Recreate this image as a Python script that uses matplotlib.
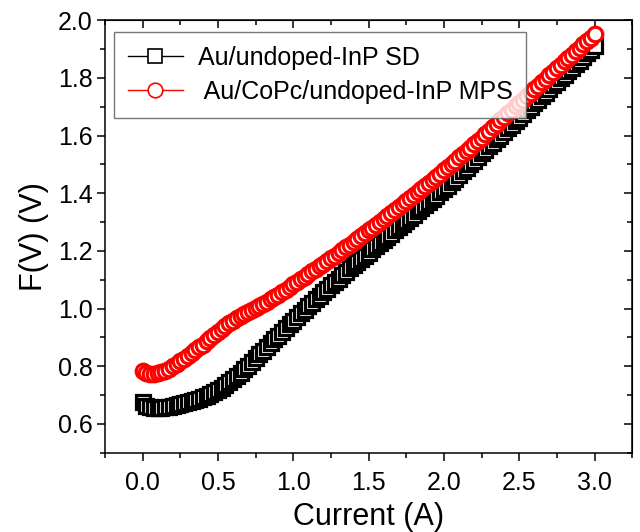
import numpy as np
import matplotlib
matplotlib.use("Agg")
from matplotlib import pyplot as plt
from matplotlib.ticker import MultipleLocator

plt.rcParams['font.family'] = ['Liberation Sans', 'DejaVu Sans']

# current sweep (A), 0.025 A steps
current = np.round(np.arange(0.0, 3.0001, 0.025), 3)

# Au/undoped-InP SD
fv_sd = [
    0.675, 0.662, 0.657, 0.655, 0.655, 0.656, 0.658, 0.660, 0.663, 0.666,
    0.669, 0.672, 0.676, 0.680, 0.684, 0.688, 0.693, 0.698, 0.704, 0.710,
    0.717, 0.725, 0.734, 0.744, 0.755, 0.766, 0.778, 0.790, 0.802, 0.815,
    0.828, 0.841, 0.854, 0.867, 0.880, 0.893, 0.906, 0.919, 0.932, 0.945,
    0.958, 0.971, 0.984, 0.996, 1.008, 1.020, 1.032, 1.044, 1.056, 1.068,
    1.080, 1.092, 1.104, 1.116, 1.128, 1.139, 1.150, 1.161, 1.172, 1.183,
    1.194, 1.205, 1.216, 1.227, 1.238, 1.249, 1.260, 1.271, 1.282, 1.293,
    1.304, 1.315, 1.326, 1.337, 1.348, 1.359, 1.370, 1.381, 1.392, 1.403,
    1.414, 1.426, 1.439, 1.451, 1.464, 1.476, 1.488, 1.501, 1.513, 1.526,
    1.538, 1.550, 1.563, 1.575, 1.588, 1.600, 1.612, 1.625, 1.637, 1.650,
    1.662, 1.674, 1.687, 1.699, 1.712, 1.724, 1.736, 1.749, 1.761, 1.774,
    1.786, 1.798, 1.811, 1.823, 1.836, 1.848, 1.860, 1.873, 1.885, 1.898,
    1.910,
]

# Au/CoPc/undoped-InP MPS
fv_mps = [
    0.785, 0.778, 0.774, 0.773, 0.775, 0.779, 0.785, 0.792, 0.800, 0.808,
    0.817, 0.826, 0.835, 0.845, 0.855, 0.865, 0.875, 0.886, 0.897, 0.908,
    0.919, 0.930, 0.940, 0.950, 0.958, 0.966, 0.973, 0.980, 0.987, 0.994,
    1.001, 1.008, 1.016, 1.024, 1.032, 1.040, 1.048, 1.057, 1.066, 1.075,
    1.084, 1.093, 1.102, 1.111, 1.120, 1.129, 1.138, 1.147, 1.156, 1.165,
    1.174, 1.183, 1.193, 1.202, 1.212, 1.221, 1.231, 1.241, 1.251, 1.261,
    1.271, 1.281, 1.291, 1.301, 1.311, 1.321, 1.331, 1.341, 1.351, 1.361,
    1.372, 1.382, 1.393, 1.403, 1.414, 1.424, 1.435, 1.446, 1.457, 1.468,
    1.479, 1.490, 1.501, 1.512, 1.524, 1.535, 1.547, 1.558, 1.570, 1.581,
    1.593, 1.605, 1.617, 1.629, 1.641, 1.653, 1.665, 1.677, 1.689, 1.701,
    1.713, 1.725, 1.737, 1.749, 1.761, 1.773, 1.785, 1.797, 1.809, 1.821,
    1.833, 1.845, 1.857, 1.869, 1.881, 1.893, 1.905, 1.917, 1.929, 1.940,
    1.951,
]

labels = ["Au/undoped-InP SD", " Au/CoPc/undoped-InP MPS"]

fig = plt.figure(figsize=(6.4, 5.32), dpi=100)
ax = fig.add_axes([0.164, 0.149, 0.824, 0.813])

ax.plot(current, fv_sd, color='black', lw=1.0, marker='s', ms=10.5,
        mfc='white', mec='black', mew=2.3, label=labels[0], zorder=2)
ax.plot(current, fv_mps, color='red', lw=1.0, marker='o', ms=10.5,
        mfc='white', mec='red', mew=2.3, label=labels[1], zorder=3)

ax.set_xlim(-0.25, 3.25)
ax.set_ylim(0.5, 2.0)
ax.xaxis.set_major_locator(MultipleLocator(0.5))
ax.xaxis.set_minor_locator(MultipleLocator(0.25))
ax.yaxis.set_major_locator(MultipleLocator(0.2))
ax.yaxis.set_minor_locator(MultipleLocator(0.1))
ax.set_yticks(np.arange(0.6, 2.01, 0.2))
ax.set_yticklabels(["%.1f" % v for v in np.arange(0.6, 2.01, 0.2)])

for sp in ax.spines.values():
    sp.set_linewidth(1.1)

ax.tick_params(which='both', direction='out', width=1.1, labelsize=18,
               top=False, right=False)
ax.tick_params(which='major', length=6)
ax.tick_params(which='minor', length=3.5)
ax.tick_params(axis='x', which='major', pad=7)
ax.tick_params(axis='y', which='major', pad=3)

# inward ticks on the top and right, Origin style
sec_x = ax.secondary_xaxis('top')
sec_x.xaxis.set_major_locator(MultipleLocator(0.5))
sec_x.xaxis.set_minor_locator(MultipleLocator(0.25))
sec_x.tick_params(which='both', direction='in', width=1.1, labeltop=False)
sec_x.tick_params(which='major', length=6)
sec_x.tick_params(which='minor', length=3.5)
sec_y = ax.secondary_yaxis('right')
sec_y.yaxis.set_major_locator(MultipleLocator(0.2))
sec_y.yaxis.set_minor_locator(MultipleLocator(0.1))
sec_y.tick_params(which='both', direction='in', width=1.1, labelright=False)
sec_y.tick_params(which='major', length=6)
sec_y.tick_params(which='minor', length=3.5)

ax.set_xlabel("Current (A)", fontsize=22, labelpad=5)
ax.set_ylabel("F(V) (V)", fontsize=22, labelpad=6)

leg = ax.legend(loc='upper left', bbox_to_anchor=(0.017, 0.972), fontsize=18,
                frameon=True, fancybox=False, edgecolor='#555555',
                handlelength=2.2, handletextpad=0.6, labelspacing=0.4,
                borderpad=0.55, borderaxespad=0.0)
leg.get_frame().set_linewidth(1.0)
for h in leg.legend_handles:
    h.set_markeredgewidth(1.2)

fig.savefig("out.png", dpi=100)
